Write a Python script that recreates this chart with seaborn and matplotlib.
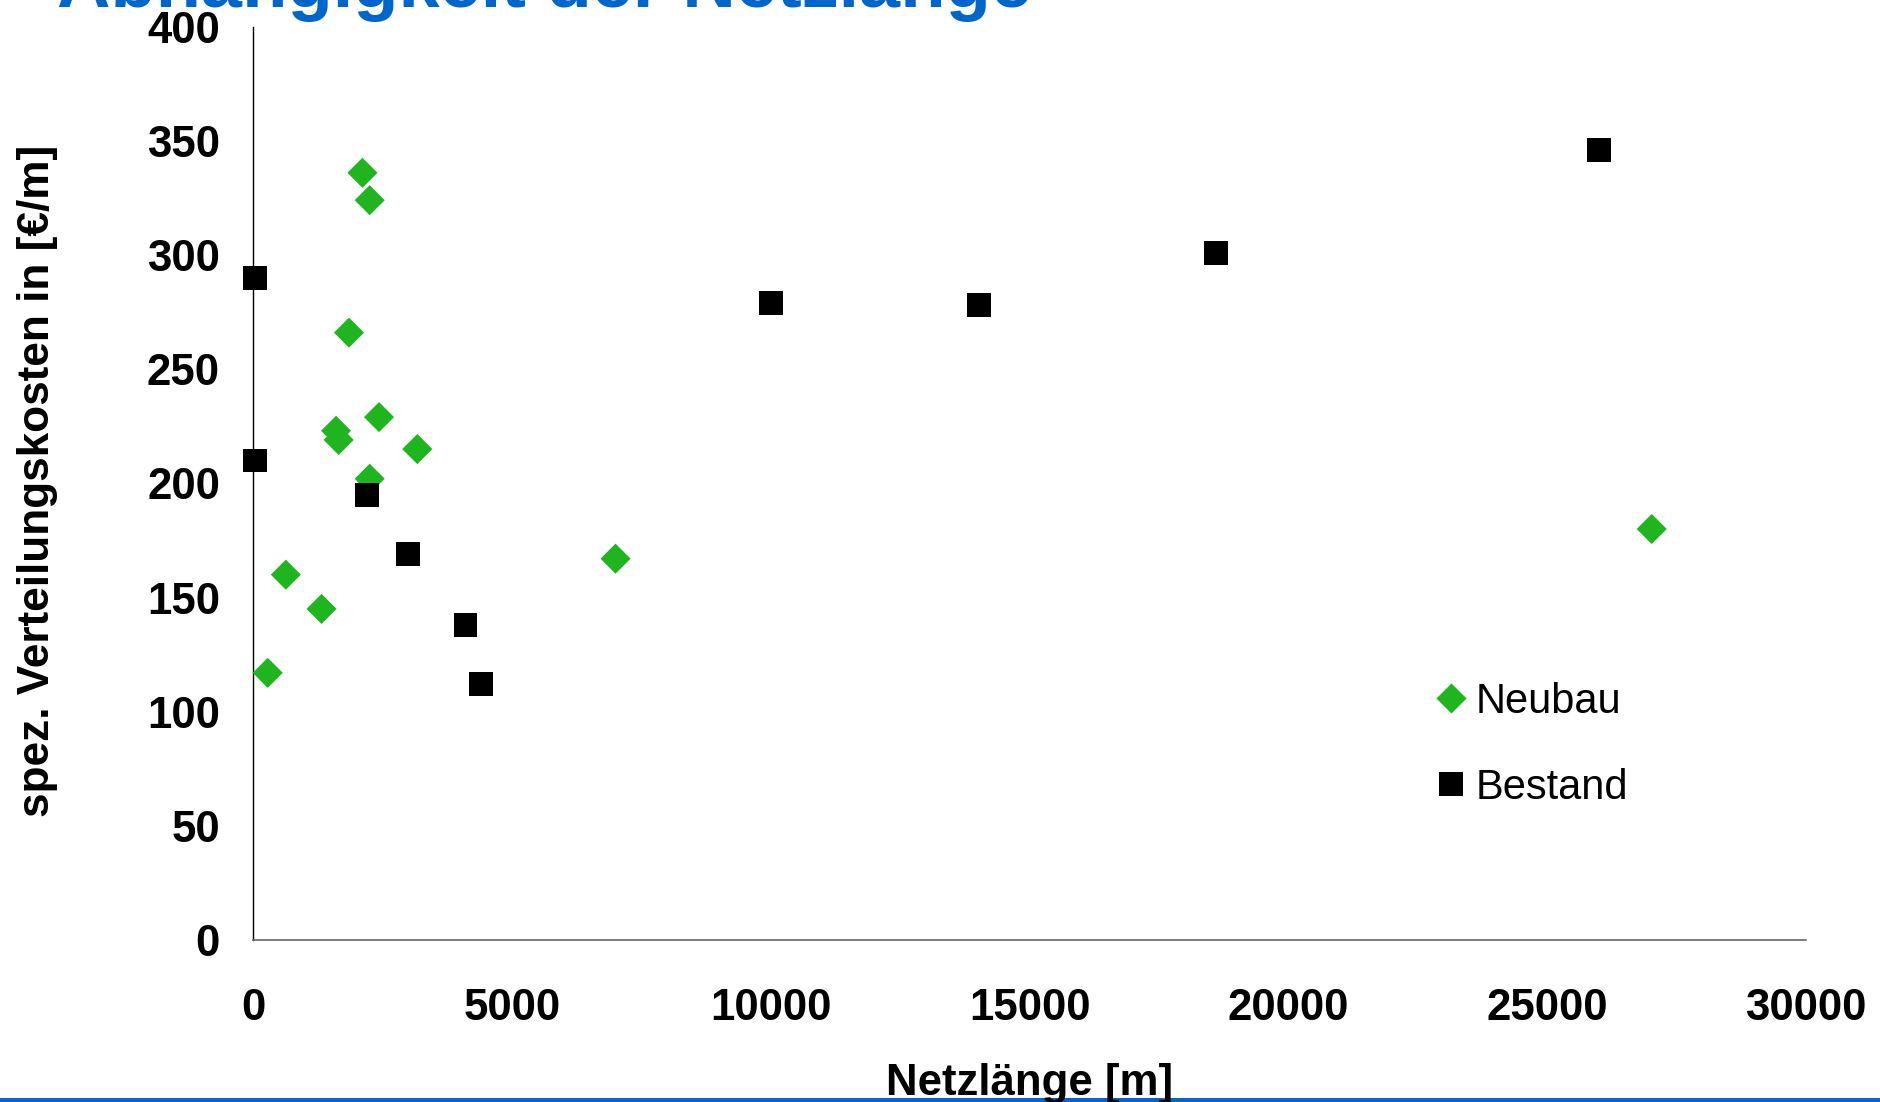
import matplotlib
matplotlib.use("Agg")
import matplotlib.pyplot as plt
import seaborn as sns
import pandas as pd
from matplotlib.lines import Line2D

# Netzlänge [m] und spez. Verteilungskosten [€/m]
neubau_laenge = [2110, 2250, 1850, 1600, 1650, 2430, 3170, 2250, 7000, 630, 1320, 280, 27020]
neubau_kosten = [336, 324, 266, 223, 219, 229, 215, 202, 167, 160, 145, 117, 180]

bestand_laenge = [30, 30, 2200, 2990, 4100, 4400, 10010, 14020, 18600, 26000]
bestand_kosten = [290, 210, 195, 169, 138, 112, 279, 278, 301, 346]

x_ticks = [0, 5000, 10000, 15000, 20000, 25000, 30000]
y_ticks = [0, 50, 100, 150, 200, 250, 300, 350, 400]

titel = "Abhängigkeit der Netzlänge"
x_titel = "Netzlänge [m]"
y_titel = "spez. Verteilungskosten in [€/m]"

df = pd.concat([
    pd.DataFrame({"Netzlänge": neubau_laenge, "Kosten": neubau_kosten, "Art": "Neubau"}),
    pd.DataFrame({"Netzlänge": bestand_laenge, "Kosten": bestand_kosten, "Art": "Bestand"}),
], ignore_index=True)

sns.set_theme(style="white")
plt.rcParams["font.family"] = ["Liberation Sans", "DejaVu Sans"]
plt.rcParams["text.color"] = "black"
plt.rcParams["axes.labelcolor"] = "black"
plt.rcParams["xtick.color"] = "black"
plt.rcParams["ytick.color"] = "black"

GREEN = "#1fb51f"
BLUE = "#0066cc"
FS = 31.5
S_DIAMOND = 470
S_SQUARE = 295

fig = plt.figure(figsize=(18.8, 11.02), dpi=100)
ax = fig.add_axes([0.1347, 0.1470, 0.8259, 0.8288])

diamond = [(-1, 0), (0, 1), (1, 0), (0, -1), (-1, 0)]

sns.scatterplot(data=df[df["Art"] == "Neubau"], x="Netzlänge", y="Kosten",
                marker=diamond, s=S_DIAMOND, color=GREEN, edgecolor="none",
                linewidth=0, ax=ax, clip_on=False, zorder=3)
sns.scatterplot(data=df[df["Art"] == "Bestand"], x="Netzlänge", y="Kosten",
                marker="s", s=S_SQUARE, color="black", edgecolor="none",
                linewidth=0, ax=ax, clip_on=False, zorder=3)

ax.set_xlim(0, 30000)
ax.set_ylim(0, 400)
ax.set_xticks(x_ticks)
ax.set_yticks(y_ticks)
ax.set_xticklabels([str(v) for v in x_ticks], fontsize=FS, fontweight="bold")
ax.set_yticklabels([str(v) for v in y_ticks], fontsize=FS, fontweight="bold")
ax.tick_params(axis="both", direction="out", length=10, width=1)
ax.tick_params(axis="x", pad=24.5, color="black")
ax.tick_params(axis="y", pad=14, color="#555555")

for side in ("top", "right"):
    ax.spines[side].set_visible(False)
ax.spines["left"].set_color("black")
ax.spines["left"].set_linewidth(1.0)
ax.spines["bottom"].set_color("#666666")
ax.spines["bottom"].set_linewidth(1.2)

ax.set_xlabel(x_titel, fontsize=FS, fontweight="bold", va="baseline")
ax.xaxis.set_label_coords(0.5, (7 - 162) / 913.3)
ax.set_ylabel(y_titel, fontsize=FS + 0.3, fontweight="bold", va="center")
ax.yaxis.set_label_coords((37.5 - 253.3) / 1552.7, 0.5026)

handles = [
    Line2D([], [], linestyle="none", marker=diamond, markersize=S_DIAMOND ** 0.5,
           color=GREEN, markeredgewidth=0),
    Line2D([], [], linestyle="none", marker="s", markersize=S_SQUARE ** 0.5,
           color="black", markeredgewidth=0),
]
ax.legend(handles, ["Neubau", "Bestand"], frameon=False, fontsize=30,
          loc="upper left", bbox_to_anchor=(1440 / 1880, 1 - 682 / 1102),
          bbox_transform=fig.transFigure, handlelength=0.55, handletextpad=0.3,
          labelspacing=1.1, borderpad=0, borderaxespad=0)

fig.text(57 / 1880, 1 - 7 / 1102, titel, color=BLUE, fontsize=53.4,
         fontweight="bold", ha="left", va="baseline")

# blue rule along the bottom edge
fig.add_artist(Line2D([0, 1], [2.5 / 1102, 2.5 / 1102], transform=fig.transFigure,
                      color=BLUE, linewidth=3.6, zorder=0))

fig.savefig("out.png", dpi=100, facecolor="white")
